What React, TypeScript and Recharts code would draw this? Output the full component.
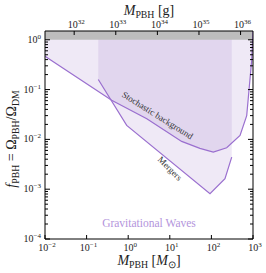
import {
  Area,
  ComposedChart,
  Label,
  Line,
  ReferenceArea,
  ReferenceDot,
  XAxis,
  YAxis,
} from 'recharts'

// stochastic GW background bound
const stochMass = [0.01, 0.4, 2.8, 19.3, 53, 111, 233, 488, 706, 931, 1000]
const stochF = [0.468, 0.061, 0.026, 0.0091, 0.0066, 0.00555, 0.0068, 0.012, 0.03, 0.39, 1.5]

// merger rate bound
const mergerMass = [0.191, 0.92, 92.5, 212, 308]
const mergerF = [0.159, 0.0191, 0.00081, 0.00162, 0.0044]

const massTicks = [0.01, 0.1, 1, 10, 100, 1000]
const gramTicks = [1e32, 1e33, 1e34, 1e35, 1e36]
const fMajor = [1e-4, 1e-3, 1e-2, 1e-1, 1]

const F_MAX = 1.5
const MSUN_G = 1.989e33

const fTicks: number[] = []
for (const d of fMajor) {
  for (let k = 1; k <= 9; k++) {
    const v = d * k
    if (v <= F_MAX) fTicks.push(v)
  }
}

const stochData = stochMass.map((m, i) => ({ m, g: m * MSUN_G, f: stochF[i], band: [stochF[i], F_MAX] }))
const mergerData = mergerMass.map((m, i) => ({ m, f: mergerF[i], band: [mergerF[i], F_MAX] }))

const FONT = '"Liberation Serif", serif'
const PURPLE = '#9a6fcf'
const FILL = '#8c66c2'

const expOf = (v: number) => {
  const e = Math.log10(v)
  const r = Math.round(e)
  return Math.abs(e - r) < 1e-6 ? r : null
}
const fmtExp = (e: number) => (e < 0 ? `\u2212${-e}` : `${e}`)

function Pow({ x, y, e, anchor }: { x: number; y: number; e: number; anchor: 'start' | 'middle' | 'end' }) {
  return (
    <text x={x} y={y} textAnchor={anchor} fontFamily={FONT} fontSize={10} fill="#222">
      10
      <tspan dy={-4} fontSize={7}>
        {fmtExp(e)}
      </tspan>
    </text>
  )
}

function BottomTick({ x, y, payload }: any) {
  const e = expOf(payload.value)
  return (
    <g>
      <line x1={x} x2={x} y1={y} y2={y - 4} stroke="#000" />
      {e !== null && <Pow x={x + 2} y={y + 12} e={e} anchor="middle" />}
    </g>
  )
}

function TopTick({ x, y, payload }: any) {
  const e = expOf(payload.value)
  return (
    <g>
      <line x1={x} x2={x} y1={y} y2={y + 4} stroke="#000" />
      {e !== null && <Pow x={x + 2} y={y - 3} e={e} anchor="middle" />}
    </g>
  )
}

function LeftTick({ x, y, payload }: any) {
  const e = expOf(payload.value)
  return (
    <g>
      <line x1={x} x2={x + (e !== null ? 5 : 3)} y1={y} y2={y} stroke="#000" />
      {e !== null && <Pow x={x - 4} y={y + 3} e={e} anchor="end" />}
    </g>
  )
}

function RightTick({ x, y, payload }: any) {
  const e = expOf(payload.value)
  return <line x1={x} x2={x - (e !== null ? 5 : 3)} y1={y} y2={y} stroke="#000" />
}

// pieces: [text, italic?, subscript?]
type Piece = [string, boolean, boolean]
function MathText({ pieces, size }: { pieces: Piece[]; size: number }) {
  let prevSub = false
  return (
    <>
      {pieces.map(([s, it, isSub], i) => {
        const dy = isSub === prevSub ? 0 : isSub ? 3 : -3
        prevSub = isSub
        return (
          <tspan
            key={i}
            dy={dy}
            fontSize={isSub ? size * 0.7 : size}
            fontStyle={it ? 'italic' : 'normal'}
          >
            {s}
          </tspan>
        )
      })}
    </>
  )
}

const massLabel: Piece[] = [
  ['M', true, false],
  ['PBH', false, true],
  [' [', false, false],
  ['M', true, false],
  ['\u2299', false, true],
  [']', false, false],
]
const gramLabel: Piece[] = [
  ['M', true, false],
  ['PBH', false, true],
  [' [g]', false, false],
]
const fLabel: Piece[] = [
  ['f', true, false],
  ['PBH', false, true],
  [' = \u03a9', false, false],
  ['PBH', false, true],
  ['/\u03a9', false, false],
  ['DM', false, true],
]

export default function App() {
  return (
    <div style={{ position: 'absolute', left: 0, top: 0 }}>
      <ComposedChart
        width={266}
        height={273}
        margin={{ top: 30, right: 12, bottom: 33, left: 44 }}
        style={{ fontFamily: FONT }}
      >
        <XAxis
          xAxisId="bot"
          dataKey="m"
          type="number"
          scale="log"
          domain={[0.01, 1000]}
          allowDataOverflow
          ticks={massTicks}
          tick={BottomTick}
          tickLine={false}
          tickSize={0}
          tickMargin={0}
          height={1}
          stroke="#000"
          interval={0}
        >
          <Label
            content={({ viewBox }: any) => (
              <text
                x={viewBox.x + viewBox.width / 2}
                y={viewBox.y + 26}
                textAnchor="middle"
                fontFamily={FONT}
                fontSize={14}
                fill="#222"
              >
                <MathText pieces={massLabel} size={14} />
              </text>
            )}
          />
        </XAxis>
        <XAxis
          xAxisId="top"
          dataKey="g"
          orientation="top"
          type="number"
          scale="log"
          domain={[0.01 * MSUN_G, 1000 * MSUN_G]}
          allowDataOverflow
          ticks={gramTicks}
          tick={TopTick}
          tickLine={false}
          tickSize={0}
          tickMargin={0}
          height={1}
          stroke="#000"
          interval={0}
        >
          <Label
            content={({ viewBox }: any) => (
              <text
                x={viewBox.x + viewBox.width / 2}
                y={viewBox.y - 15}
                textAnchor="middle"
                fontFamily={FONT}
                fontSize={14}
                fill="#222"
              >
                <MathText pieces={gramLabel} size={14} />
              </text>
            )}
          />
        </XAxis>
        <YAxis
          yAxisId="left"
          type="number"
          scale="log"
          domain={[1e-4, F_MAX]}
          allowDataOverflow
          ticks={fTicks}
          tick={LeftTick}
          tickLine={false}
          tickSize={0}
          tickMargin={0}
          width={1}
          stroke="#000"
          interval={0}
        >
          <Label
            content={({ viewBox }: any) => {
              const cx = viewBox.x - 28
              const cy = viewBox.y + viewBox.height / 2 + 4
              return (
                <text
                  x={cx}
                  y={cy}
                  transform={`rotate(-90 ${cx} ${cy})`}
                  textAnchor="middle"
                  fontFamily={FONT}
                  fontSize={14}
                  fill="#222"
                >
                  <MathText pieces={fLabel} size={14} />
                </text>
              )
            }}
          />
        </YAxis>
        <YAxis
          yAxisId="right"
          orientation="right"
          type="number"
          scale="log"
          domain={[1e-4, F_MAX]}
          allowDataOverflow
          ticks={fTicks}
          tick={RightTick}
          tickLine={false}
          tickSize={0}
          tickMargin={0}
          width={1}
          stroke="#000"
          interval={0}
        />

        <Area
          xAxisId="bot"
          yAxisId="left"
          data={stochData}
          dataKey="band"
          type="linear"
          stroke="none"
          fill={FILL}
          fillOpacity={0.14}
          isAnimationActive={false}
        />
        <Area
          xAxisId="bot"
          yAxisId="left"
          data={mergerData}
          dataKey="band"
          type="linear"
          stroke="none"
          fill={FILL}
          fillOpacity={0.14}
          isAnimationActive={false}
        />
        <Line
          xAxisId="bot"
          yAxisId="left"
          data={stochData}
          dataKey="f"
          type="linear"
          stroke={PURPLE}
          strokeWidth={1.2}
          dot={false}
          isAnimationActive={false}
        />
        <Line
          xAxisId="bot"
          yAxisId="left"
          data={mergerData}
          dataKey="f"
          type="linear"
          stroke={PURPLE}
          strokeWidth={1.2}
          dot={false}
          isAnimationActive={false}
        />
        {/* invisible series tying the gram axis to the data */}
        <Line
          xAxisId="top"
          yAxisId="right"
          data={stochData}
          dataKey="f"
          type="linear"
          stroke="none"
          dot={false}
          activeDot={false}
          legendType="none"
          isAnimationActive={false}
        />
        <ReferenceArea
          xAxisId="bot"
          yAxisId="left"
          x1={0.01}
          x2={1000}
          y1={1}
          y2={F_MAX}
          fill="#bdbdbd"
          fillOpacity={1}
          stroke="none"
        />

        <ReferenceDot
          xAxisId="bot"
          yAxisId="left"
          x={5.06}
          y={0.0304}
          r={0}
          fill="none"
          stroke="none"
          label={{
            content: ({ viewBox }: any) => (
              <text
                x={viewBox.x}
                y={viewBox.y}
                transform={`rotate(32 ${viewBox.x} ${viewBox.y})`}
                textAnchor="middle"
                dominantBaseline="central"
                fontFamily={FONT}
                fontSize={9}
                fill="#333"
              >
                Stochastic background
              </text>
            ),
          }}
        />
        <ReferenceDot
          xAxisId="bot"
          yAxisId="left"
          x={10.1}
          y={0.0026}
          r={0}
          fill="none"
          stroke="none"
          label={{
            content: ({ viewBox }: any) => (
              <text
                x={viewBox.x}
                y={viewBox.y}
                transform={`rotate(45 ${viewBox.x} ${viewBox.y})`}
                textAnchor="middle"
                dominantBaseline="central"
                fontFamily={FONT}
                fontSize={9}
                fill="#333"
              >
                Mergers
              </text>
            ),
          }}
        />
        <ReferenceDot
          xAxisId="bot"
          yAxisId="left"
          x={3.16}
          y={0.00021}
          r={0}
          fill="none"
          stroke="none"
          label={{
            content: ({ viewBox }: any) => (
              <text
                x={viewBox.x}
                y={viewBox.y}
                textAnchor="middle"
                dominantBaseline="central"
                fontFamily={FONT}
                fontSize={11.5}
                fill="#b394dc"
              >
                Gravitational Waves
              </text>
            ),
          }}
        />
      </ComposedChart>
    </div>
  )
}
